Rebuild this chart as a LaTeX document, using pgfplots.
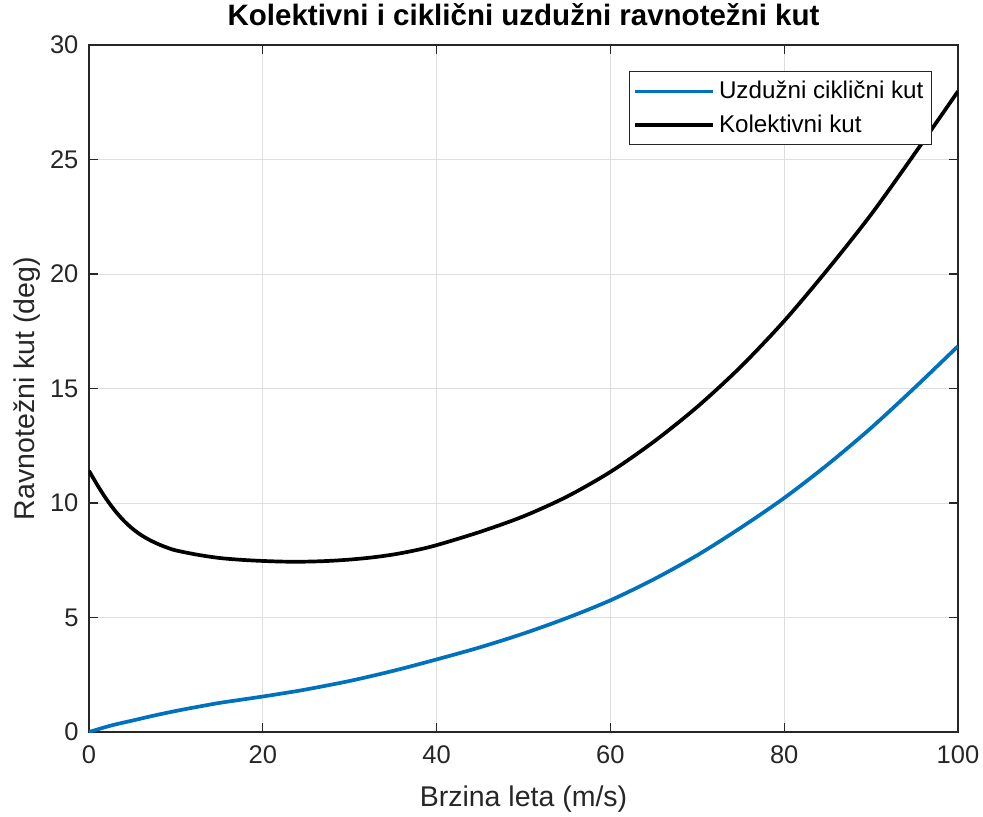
\documentclass[border=0pt]{standalone}
\usepackage{fontspec}
\setmainfont{Liberation Sans}
\usepackage{pgfplots}
\pgfplotsset{compat=1.18}
\definecolor{mblue}{RGB}{0,114,189}
\definecolor{axgray}{RGB}{38,38,38}
\definecolor{gridgray}{RGB}{223,223,223}
\begin{document}
\begin{tikzpicture}
\begin{axis}[
  at={(0,0)}, anchor=south west,
  scale only axis, width=434.5pt, height=343.5pt,
  xmin=0, xmax=100, ymin=0, ymax=30,
  xtick={0,20,40,60,80,100}, ytick={0,5,10,15,20,25,30},
  grid=major, major grid style={gridgray, line width=0.5pt},
  axis line style={axgray, line width=0.6pt},
  tick style={axgray, line width=0.6pt},
  tick align=inside, major tick length=4.5pt,
  /pgf/number format/assume math mode=true,
  ticklabel style={font=\fontsize{12.75}{14}\selectfont, text=axgray},
  xticklabel style={yshift=-3.5pt},
  yticklabel style={xshift=-1.75pt},
  xlabel={Brzina leta (m/s)}, ylabel={Ravnotežni kut (deg)},
  label style={font=\fontsize{14.25}{16}\selectfont, text=axgray},
  xlabel style={at={([yshift=-33.5pt]axis description cs:0.5,0)}, anchor=center},
  ylabel style={at={([xshift=-31pt]axis description cs:0,0.5)}, anchor=center},
  title={Kolektivni i ciklični uzdužni ravnotežni kut},
  title style={font=\bfseries\fontsize{14.75}{17}\selectfont, at={([yshift=9pt]axis description cs:0.5,1)}, anchor=center},
  legend style={at={(axis description cs:0.970,0.962)}, anchor=north east,
    draw=axgray, line width=0.5pt, font=\fontsize{12.1}{14}\selectfont,
    inner xsep=2pt, inner ysep=2.75pt, row sep=2.5pt,
    nodes={inner sep=2pt}},
  legend cell align=left,
  legend image code/.code={\draw[#1] (0pt,0pt) -- (39pt,0pt);},
]
\addplot[mblue, line width=1.85pt, smooth] coordinates {
(0,0) (2.5,0.28) (5,0.50) (7.5,0.72) (10,0.92) (12.5,1.10) (15,1.27) (17.5,1.41)
(20,1.55) (22.5,1.70) (25,1.86) (30,2.23) (35,2.67) (40,3.17) (45,3.70) (50,4.30) (55,4.98)
(60,5.75) (65,6.67) (70,7.72) (75,8.92) (80,10.22) (85,11.68) (90,13.28) (95,15.03) (100,16.85)
};
\addlegendentry{Uzdužni ciklični kut}
\addplot[black, line width=1.85pt, smooth] coordinates {
(0,11.41) (1,10.76) (2,10.17) (3,9.66) (4,9.23) (5,8.88) (6,8.60) (7,8.38) (8,8.20)
(9,8.05) (10,7.93) (12.5,7.74) (15,7.60) (17.5,7.52) (20,7.47) (22.5,7.44) (25,7.44)
(27.5,7.47) (30,7.53) (32.5,7.62) (35,7.75) (37.5,7.93) (40,8.16) (45,8.74) (50,9.42)
(55,10.28) (60,11.36) (65,12.68) (70,14.20) (75,15.95) (80,17.95) (85,20.20) (90,22.60)
(95,25.25) (100,27.98)
};
\addlegendentry{Kolektivni kut}
\end{axis}
\pgfresetboundingbox
\path[use as bounding box] (-44.5pt,-42pt) rectangle (447pt,366pt);
\end{tikzpicture}
\end{document}
